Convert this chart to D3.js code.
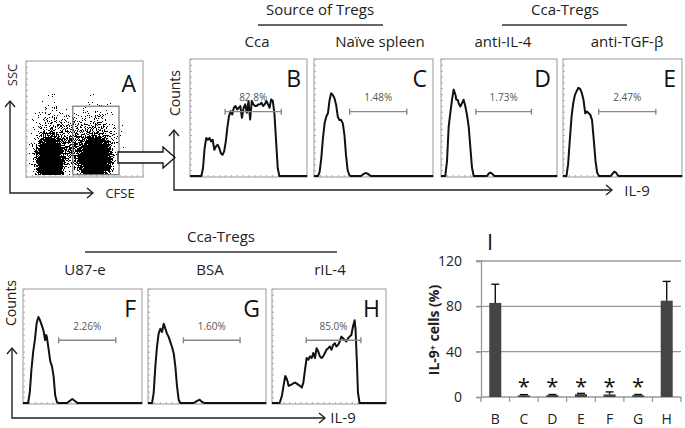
<!DOCTYPE html>
<html><head><meta charset="utf-8">
<script src="https://cdn.jsdelivr.net/npm/d3@7"></script>
<style>body{margin:0;background:#fff} text{font-family:"Open Sans",sans-serif}</style>
</head><body><div id="fig"></div>
<script>
const W = 685, H = 428;

// histograms: [IL-9 channel (0-100), counts (% of panel height)]
const histB = [[0,0],[9.7,0],[11.1,6.6],[12.5,23.9],[13.9,32.5],[15.3,31],[16.7,32.5],[18,29.6],[19.4,31],[20.8,22.4],[22.2,25.3],[23.6,26.7],[25,23.9],[26.4,19.5],[27.8,18.1],[29.2,21],[30.6,29.6],[31.9,41.1],[33.3,51.1],[34.7,55.5],[36.1,52.6],[37.5,58.3],[38.9,59.8],[40.3,56.9],[41.7,58.3],[43,59.8],[44.4,49.7],[45.8,58.3],[47.2,61.2],[48.6,54],[50,64.1],[51.4,48.3],[52.8,64.1],[54.2,61.2],[55.6,59.8],[56.9,59.8],[58.3,61.2],[59.7,61.2],[61.1,62.6],[62.5,59.8],[63.9,61.2],[65.3,64.1],[66.7,61.2],[68,58.3],[69.4,65.5],[70.8,64.1],[72.2,52.6],[73.6,29.6],[75,6.6],[76.4,0],[100,0]];
const histC = [[0,0],[3.3,0],[4.7,3.4],[6.1,14.9],[7.5,32.1],[8.9,45],[10.3,50.7],[11.7,53.6],[13.1,65],[14.4,70.8],[15.8,69.3],[17.2,66.5],[18.6,60.7],[20,50.7],[21.4,47.9],[22.8,47.9],[24.2,45],[25.6,35],[26.9,17.8],[28.3,4.9],[29.7,0.6],[31.1,0],[39.4,0],[42.2,2],[43.6,2.6],[45,2],[47.8,0],[100,0]];
const histD = [[0,0],[3.7,0],[5.2,13],[6.6,42],[8,53.6],[9.5,65.2],[10.9,73.9],[12.4,69.6],[13.2,65.2],[14.4,65.2],[15.2,62.3],[16.7,59.4],[18.1,62.3],[19.5,65.2],[21,59.4],[22.4,52.2],[23.9,42],[25.3,24.6],[26.7,7.2],[28.2,0],[39.7,0],[41.1,2],[42.5,2.9],[44,2],[46,0],[100,0]];
const histE = [[0,0],[2.9,0],[4.3,10.1],[5.7,30.4],[7.2,50.7],[8.6,62.3],[10.1,69.6],[11.5,72.5],[12.9,75.4],[14.4,74.5],[15.8,71],[17.2,65.2],[18.7,53.6],[20.1,55.1],[21.6,53.6],[23,52.2],[24.4,47.8],[25.9,30.4],[27.3,13],[28.7,2.9],[30.2,0],[40.2,0],[41.7,2],[43.1,3.8],[44.5,2.9],[46.6,0],[100,0]];
const histF = [[0,0],[4.3,0],[5.7,9.2],[7.1,29.4],[8.6,45.2],[10,55.3],[11.4,69.7],[12.9,75.5],[14.3,72.6],[15.7,68.3],[17.1,64],[18.6,55.3],[19.4,59.7],[20,58.2],[21.4,48.1],[22.9,36.6],[24.3,32.3],[25.7,23.6],[27.1,6.3],[28.6,0.6],[30,0],[37.1,0],[39.4,2],[41.4,3.5],[43.4,2],[45.7,0],[100,0]];
const histG = [[0,0],[3.4,0],[4.8,8.7],[6.2,31.9],[7.6,49.3],[9,60.9],[10.5,65.2],[11.9,62.3],[13.3,69.6],[14.7,65.2],[16.1,60.9],[17.5,58],[18.9,53.6],[20.3,49.3],[21.8,43.5],[23.2,31.9],[24.6,14.5],[26,2.9],[27.4,0],[38.7,0],[41,1.4],[43.8,2.9],[45.2,1.4],[47.5,0],[100,0]];
const histH = [[0,0],[6.7,0],[8.7,6.3],[10.1,15],[11.6,23.6],[12.5,22.2],[13.6,19.3],[14.5,15],[15.9,15.6],[17.4,16.4],[18.8,17.3],[20.3,17.9],[21.7,17],[23.2,15.9],[24.6,15],[26.1,13.5],[27.5,17.9],[29,29.4],[30.4,39.5],[31.9,38],[33.3,40.9],[34.8,39.5],[36.2,43.8],[37.7,39.5],[39.1,48.1],[40.6,45.2],[42,40.9],[43.5,39.5],[44.9,40.9],[46.4,43.8],[47.8,46.7],[49.3,48.1],[50.7,49.6],[52.2,46.7],[53.6,51],[55.1,52.4],[56.5,49.6],[58,51],[59.4,53.9],[60.9,58.2],[62.3,56.8],[63.8,55.3],[65.2,53.9],[66.7,56.8],[68.1,58.2],[69.6,59.7],[71,66.9],[72.5,72.6],[73.3,64],[74.5,35.2],[75.4,9.2],[76.8,0],[100,0]];

const pctLabels = ["82.8%","1.48%","1.73%","2.47%","2.26%","1.60%","85.0%"];
const gate = [30, 78];     // marker gate, channel units
const gateLevel = 55;      // counts
const pctLevel = 64;

// panel A scatter: CFSE / SSC cell clusters (data units 0-100), peak density a
const clusters = [
  {cx: 22, cy: 26, rx: 24, ry: 50, a: 0.42},
  {cx: 60, cy: 28, rx: 26, ry: 50, a: 0.42},
  {cx: 40, cy: 30, rx: 12, ry: 32, a: 0.28},
  {cx: 20.5, cy: 14, rx: 15, ry: 27, a: 1},
  {cx: 59, cy: 14, rx: 18, ry: 26, a: 1}
];
const gateA = [40, 79.5, 2, 61];

// panel I
const cats = ["B","C","D","E","F","G","H"];
const means = [83, 1.5, 1.7, 2.5, 2.3, 1.6, 85];
const errs = [16.5, 0.6, 0.5, 0.7, 2.2, 0.6, 17];
const stars = [false, true, true, true, true, true, false];
const yTicks = [0, 40, 80, 120];

const svg = d3.select("#fig").append("svg").attr("width", W).attr("height", H);
const defs = svg.append("defs");

function arrowAxes(ox, oy, top, right) {
  const g = svg.append("g").attr("fill", "none").attr("stroke", "#222").attr("stroke-width", 1.4);
  g.append("path").attr("d", `M${ox},${top} V${oy} H${right}`);
  g.append("path").attr("d", `M${ox-5},${top+6} L${ox},${top} L${ox+5},${top+6}`);
  g.append("path").attr("d", `M${right-6},${oy-5} L${right},${oy} L${right-6},${oy+5}`);
}

function label(x, y, t, size, opts) {
  const s = svg.append("text").attr("x", x).attr("y", y).attr("text-anchor", "middle")
    .attr("font-size", size).attr("fill", "#222").text(t);
  if (opts && opts.rot) s.attr("transform", `rotate(-90,${x},${y})`);
  if (opts && opts.weight) s.attr("font-weight", opts.weight);
  return s;
}

function histPanel(letter, data, pct, x0, x1, y0, y1) {
  const x = d3.scaleLinear().domain([0, 100]).range([x0, x1]);
  const y = d3.scaleLinear().domain([0, 100]).range([y1 - 1, y0]);
  const g = svg.append("g");
  g.append("rect").attr("x", x0).attr("y", y0).attr("width", x1 - x0).attr("height", y1 - y0)
    .attr("fill", "#fff").attr("stroke", "#999").attr("stroke-width", 1);
  g.append("g").attr("transform", `translate(${x0},0)`)
    .call(d3.axisLeft(y).ticks(25).tickSize(-2).tickFormat(""))
    .call(a => { a.select(".domain").remove(); a.selectAll("line").attr("stroke", "#aaa"); });
  g.append("g").attr("transform", `translate(0,${y1})`)
    .call(d3.axisBottom(x).ticks(25).tickSize(-2).tickFormat(""))
    .call(a => { a.select(".domain").remove(); a.selectAll("line").attr("stroke", "#aaa"); });
  g.append("path").datum(data)
    .attr("d", d3.line().x(d => x(d[0])).y(d => y(d[1])))
    .attr("fill", "none").attr("stroke", "#111").attr("stroke-width", 2).attr("stroke-linejoin", "round");
  const gl = g.append("g").attr("stroke", "#888").attr("stroke-width", 1.4);
  gl.append("line").attr("x1", x(gate[0])).attr("x2", x(gate[1])).attr("y1", y(gateLevel)).attr("y2", y(gateLevel));
  gate.forEach(v => gl.append("line").attr("x1", x(v)).attr("x2", x(v)).attr("y1", y(gateLevel) - 3).attr("y2", y(gateLevel) + 3));
  g.append("text").attr("x", x(54)).attr("y", y(pctLevel)).attr("text-anchor", "middle")
    .attr("font-family", "Liberation Sans, Arial, sans-serif").attr("font-size", 10).attr("fill", "#555").text(pct);
  g.append("text").attr("x", x1 - 6).attr("y", y0 + 28).attr("text-anchor", "end")
    .attr("font-size", 23).attr("fill", "#111").text(letter);
}

// ---- panel A
const xA = d3.scaleLinear().domain([0, 100]).range([26, 143]);
const yA = d3.scaleLinear().domain([0, 100]).range([177, 61]);
const grad = defs.append("radialGradient").attr("id", "dens");
[[0, 1], [0.35, 0.85], [0.7, 0.4], [1, 0]].forEach(s =>
  grad.append("stop").attr("offset", s[0]).attr("stop-color", "#000").attr("stop-opacity", s[1]));
const filt = defs.append("filter").attr("id", "speck").attr("filterUnits", "userSpaceOnUse")
  .attr("x", 26).attr("y", 61).attr("width", 117).attr("height", 116)
  .attr("color-interpolation-filters", "sRGB");
filt.append("feGaussianBlur").attr("in", "SourceGraphic").attr("stdDeviation", 1.5).attr("result", "d");
filt.append("feTurbulence").attr("type", "fractalNoise").attr("baseFrequency", 0.9).attr("numOctaves", 2).attr("seed", 4).attr("result", "n");
filt.append("feColorMatrix").attr("in", "n").attr("type", "matrix")
  .attr("values", "0 0 0 0 0  0 0 0 0 0  0 0 0 0 0  2 0 0 0 -0.45").attr("result", "na");
filt.append("feComposite").attr("in", "d").attr("in2", "na").attr("operator", "arithmetic")
  .attr("k1", 0).attr("k2", 1.5).attr("k3", -1).attr("k4", 0.44).attr("result", "c");
const ct = filt.append("feComponentTransfer").attr("in", "c");
["feFuncR", "feFuncG", "feFuncB"].forEach(f => ct.append(f).attr("type", "linear").attr("slope", 0).attr("intercept", 0));
ct.append("feFuncA").attr("type", "discrete").attr("tableValues", "0 1");
defs.append("clipPath").attr("id", "clipA").append("rect")
  .attr("x", 27).attr("y", 62).attr("width", 115).attr("height", 113);

svg.append("rect").attr("x", 26).attr("y", 61).attr("width", 117).attr("height", 116)
  .attr("fill", "#fff").attr("stroke", "#999");
svg.append("g").attr("transform", "translate(26,0)")
  .call(d3.axisLeft(yA).ticks(20).tickSize(-2).tickFormat(""))
  .call(a => { a.select(".domain").remove(); a.selectAll("line").attr("stroke", "#aaa"); });
svg.append("g").attr("transform", "translate(0,177)")
  .call(d3.axisBottom(xA).ticks(20).tickSize(-2).tickFormat(""))
  .call(a => { a.select(".domain").remove(); a.selectAll("line").attr("stroke", "#aaa"); });
svg.append("g").attr("clip-path", "url(#clipA)").append("g").attr("filter", "url(#speck)")
  .selectAll("ellipse").data(clusters).join("ellipse")
  .attr("cx", d => xA(d.cx)).attr("cy", d => yA(d.cy))
  .attr("rx", d => xA(d.rx) - xA(0)).attr("ry", d => yA(0) - yA(d.ry))
  .attr("fill", "url(#dens)").attr("fill-opacity", d => d.a);
svg.append("rect").attr("x", xA(gateA[0])).attr("y", yA(gateA[3]))
  .attr("width", xA(gateA[1]) - xA(gateA[0])).attr("height", yA(gateA[2]) - yA(gateA[3]))
  .attr("fill", "none").attr("stroke", "#777").attr("stroke-width", 1.2);
svg.append("text").attr("x", 136).attr("y", 92).attr("text-anchor", "end").attr("font-size", 23).attr("fill", "#111").text("A");
arrowAxes(10, 193, 101, 93);
label(17, 75, "SSC", 13, {rot: true});
label(120, 198, "CFSE", 13);
svg.append("path").attr("d", "M118,152 H163 V147 L175,157.5 L163,168 V163 H118 Z")
  .attr("fill", "#fff").attr("stroke", "#111").attr("stroke-width", 1.3);

// ---- top row
arrowAxes(174, 190, 130, 612);
label(180, 93, "Counts", 14, {rot: true});
label(637, 196, "IL-9", 15);
histPanel("B", histB, pctLabels[0], 190, 307, 59, 177);
histPanel("C", histC, pctLabels[1], 314, 433, 59, 177);
histPanel("D", histD, pctLabels[2], 441, 557, 59, 177);
histPanel("E", histE, pctLabels[3], 563, 682, 59, 177);
label(320, 15, "Source of Tregs", 15);
svg.append("line").attr("x1", 258).attr("x2", 383).attr("y1", 25).attr("y2", 25).attr("stroke", "#333").attr("stroke-width", 1.4);
label(257, 47, "Cca", 15);
label(380, 47, "Naïve spleen", 15);
label(565, 15, "Cca-Tregs", 15);
svg.append("line").attr("x1", 502).attr("x2", 627).attr("y1", 25).attr("y2", 25).attr("stroke", "#333").attr("stroke-width", 1.4);
label(503, 47, "anti-IL-4", 15);
label(627, 47, "anti-TGF-β", 15);

// ---- bottom row
arrowAxes(12, 418, 348, 325);
label(16, 303, "Counts", 14, {rot: true});
label(343, 423, "IL-9", 15);
histPanel("F", histF, pctLabels[4], 23, 142, 289, 404);
histPanel("G", histG, pctLabels[5], 148, 266, 289, 404);
histPanel("H", histH, pctLabels[6], 272, 386, 289, 404);
label(221, 242, "Cca-Tregs", 15);
svg.append("line").attr("x1", 85).attr("x2", 337).attr("y1", 252).attr("y2", 252).attr("stroke", "#333").attr("stroke-width", 1.4);
label(85, 275, "U87-e", 15);
label(210, 275, "BSA", 15);
label(330, 275, "rIL-4", 15);

// ---- panel I
const xb = d3.scaleBand().domain(cats).range([481, 681]).paddingInner(0.58).paddingOuter(0.29);
const yb = d3.scaleLinear().domain([0, 120]).range([397, 261]);
const gI = svg.append("g");
gI.selectAll(".grid").data(yTicks.filter(v => v > 0)).join("line")
  .attr("x1", 476).attr("x2", 681).attr("y1", d => yb(d)).attr("y2", d => yb(d))
  .attr("stroke", "#999").attr("stroke-width", 1.3);
gI.append("g").attr("transform", "translate(481,0)")
  .call(d3.axisLeft(yb).tickValues(yTicks).tickSize(5).tickPadding(14))
  .call(a => {
    a.selectAll("line,path").attr("stroke", "#999").attr("stroke-width", 1.3);
    a.selectAll("text").attr("font-size", 14).attr("fill", "#222").attr("font-family", "Open Sans, sans-serif");
  });
gI.append("line").attr("x1", 481).attr("x2", 681).attr("y1", yb(0)).attr("y2", yb(0)).attr("stroke", "#999").attr("stroke-width", 1.3);
gI.selectAll(".xt").data(d3.range(cats.length + 1)).join("line")
  .attr("x1", i => xb.range()[0] + i * xb.step()).attr("x2", i => xb.range()[0] + i * xb.step())
  .attr("y1", yb(0)).attr("y2", yb(0) + 5).attr("stroke", "#999").attr("stroke-width", 1.3);
gI.selectAll(".bar").data(cats).join("rect")
  .attr("x", d => xb(d)).attr("width", xb.bandwidth())
  .attr("y", (d, i) => yb(means[i])).attr("height", (d, i) => yb(0) - yb(means[i]))
  .attr("fill", "#444");
const eb = gI.append("g").attr("stroke", "#111").attr("stroke-width", 1.4);
cats.forEach((c, i) => {
  const cx = xb(c) + xb.bandwidth() / 2;
  eb.append("line").attr("x1", cx).attr("x2", cx).attr("y1", yb(means[i])).attr("y2", yb(means[i] + errs[i]));
  eb.append("line").attr("x1", cx - 4).attr("x2", cx + 4).attr("y1", yb(means[i] + errs[i])).attr("y2", yb(means[i] + errs[i]));
});
gI.selectAll(".star").data(cats.filter((c, i) => stars[i])).join("text")
  .attr("x", d => xb(d) + xb.bandwidth() / 2).attr("y", yb(0) - 3).attr("text-anchor", "middle")
  .attr("font-size", 22).attr("fill", "#111").text("*");
gI.selectAll(".cat").data(cats).join("text")
  .attr("x", d => xb(d) + xb.bandwidth() / 2).attr("y", 424).attr("text-anchor", "middle")
  .attr("font-size", 14).attr("fill", "#222").text(d => d);
label(439, 330, "IL-9\u207A cells (%)", 14, {rot: true, weight: "bold"});
svg.append("text").attr("x", 490).attr("y", 250).attr("text-anchor", "middle").attr("font-size", 22).attr("fill", "#111").text("I");
</script></body></html>
